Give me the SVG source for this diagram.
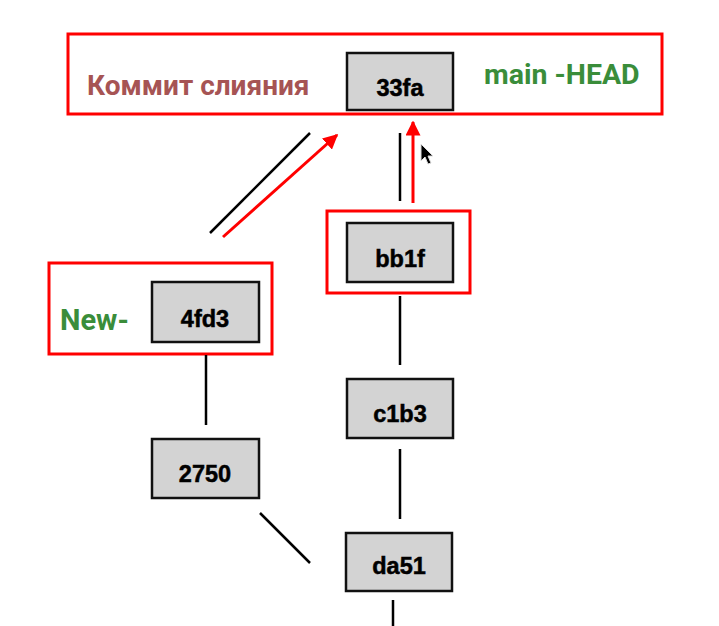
<svg xmlns="http://www.w3.org/2000/svg" width="719" height="626" viewBox="0 0 719 626">
<style>
.frame{fill:none;stroke:#ff0000;stroke-width:3}
.node rect{fill:#d3d3d3;stroke:#111;stroke-width:2.5}
.node text{font-family:"Liberation Sans",Arial,sans-serif;font-weight:bold;font-size:23.5px;fill:#000;stroke:#000;stroke-width:0.5;text-anchor:middle}
.lbl{font-family:Roboto,"Liberation Sans",sans-serif;font-weight:bold}
.blk{stroke:#000;stroke-width:2.5;fill:none}
.red{stroke:#ff0000;stroke-width:3;fill:none}
</style>
<defs>
<marker id="ah" viewBox="0 0 10 10" refX="9" refY="5" markerWidth="5" markerHeight="5" orient="auto" markerUnits="strokeWidth">
<path d="M0,0 L10,5 L0,10 z" fill="#ff0000"/>
</marker>
</defs>
<rect width="719" height="626" fill="#fff"/>
<g id="frames">
<rect class="frame" x="68" y="34" width="594" height="80"/>
<rect class="frame" x="327" y="211" width="143" height="82"/>
<rect class="frame" x="49" y="263" width="223" height="91"/>
</g>
<g id="labels">
<text class="lbl" x="87" y="95" font-size="28" fill="#a65454">Коммит слияния</text>
<text class="lbl" x="484" y="84" font-size="28.5" fill="#3a8d3a">main -HEAD</text>
<text class="lbl" x="60" y="330" font-size="29" fill="#3a8d3a">New-</text>
</g>
<g id="connectors">
<line class="blk" x1="400" y1="133" x2="400" y2="201"/>
<line class="blk" x1="210" y1="233" x2="310" y2="133"/>
<line class="blk" x1="400" y1="296" x2="400" y2="365"/>
<line class="blk" x1="206" y1="355" x2="206" y2="425"/>
<line class="blk" x1="400" y1="449" x2="400" y2="519"/>
<line class="blk" x1="260" y1="513" x2="310" y2="563"/>
<line class="blk" x1="393" y1="600" x2="393" y2="626"/>
<line class="red" x1="413" y1="203" x2="413" y2="122" marker-end="url(#ah)"/>
<line class="red" x1="223" y1="237" x2="337" y2="135" marker-end="url(#ah)"/>
</g>
<g id="n33fa" class="node"><rect x="347" y="53" width="106" height="57"/><text x="400" y="96">33fa</text></g>
<g id="nbb1f" class="node"><rect x="347" y="223" width="106" height="59"/><text x="400" y="267">bb1f</text></g>
<g id="n4fd3" class="node"><rect x="152" y="282" width="107" height="60"/><text x="205" y="327">4fd3</text></g>
<g id="nc1b3" class="node"><rect x="347" y="379" width="106" height="59"/><text x="400" y="422">c1b3</text></g>
<g id="n2750" class="node"><rect x="152" y="439" width="107" height="59"/><text x="205" y="482">2750</text></g>
<g id="nda51" class="node"><rect x="346" y="533" width="106" height="58"/><text x="399" y="574">da51</text></g>
<g id="cursor">
<path d="M421,144 L421,161 L425,157 L428,164 L431,163 L428,156 L433,156 Z" fill="#000" stroke="#ddd" stroke-width="1"/>
</g>
</svg>
